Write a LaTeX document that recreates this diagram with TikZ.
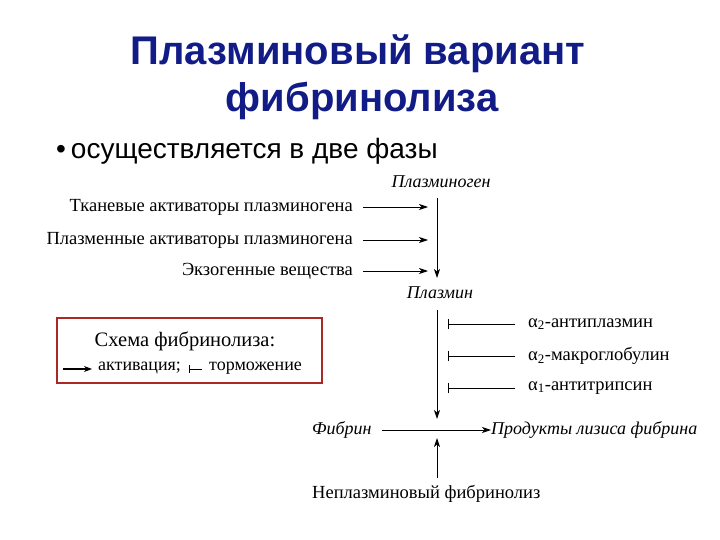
\documentclass[tikz,border=0pt]{standalone}
\usepackage{fontspec}
\setmainfont{Liberation Serif}
\newfontfamily\sansf{Liberation Sans}
\usetikzlibrary{arrows.meta}
\definecolor{titleblue}{RGB}{18,28,135}
\definecolor{boxred}{RGB}{170,40,40}
\tikzset{
  x=1pt, y=-1pt,
  lbl/.style={inner sep=0pt, font=\fontsize{18.5}{20}\selectfont},
  ilbl/.style={inner sep=0pt, font=\fontsize{18}{20}\selectfont\itshape},
  titl/.style={anchor=base, inner sep=0pt, font=\sansf\bfseries\fontsize{40}{48}\selectfont, text=titleblue},
  act/.style={line width=0.9pt, -{Stealth[length=9pt,width=6pt,inset=2.5pt]}},
  inh/.style={line width=0.9pt, {Bar[width=10pt,line width=0.9pt]}-},
}
\begin{document}
\begin{tikzpicture}
\useasboundingbox (0,0) rectangle (720,540);
% title
\node[titl] (title1) at (358,65) {Плазминовый вариант};
\node[titl] (title2) at (362,112) {фибринолиза};
\node[anchor=base west, inner sep=0pt, font=\sansf\fontsize{28}{32}\selectfont] (bul) at (56,159) {•\hspace{5pt}осуществляется в две фазы};
% top chain
\node[ilbl] (pg) at (441,182) {Плазминоген};
\node[ilbl] (pm) at (440,293) {Плазмин};
\coordinate (a1) at (437,198);
\coordinate (a2) at (437,278);
\draw[act] (a1) -- (a2);
\node[lbl, anchor=east] (t1) at (353,207) {Тканевые активаторы плазминогена};
\node[lbl, anchor=east] (t2) at (353,240) {Плазменные активаторы плазминогена};
\node[lbl, anchor=east] (t3) at (353,271) {Экзогенные вещества};
\coordinate (s1) at (363,207);
\coordinate (s2) at (363,240);
\coordinate (s3) at (363,271);
\coordinate (e1) at (428,207);
\coordinate (e2) at (428,240);
\coordinate (e3) at (428,271);
\draw[act] (s1) -- (e1);
\draw[act] (s2) -- (e2);
\draw[act] (s3) -- (e3);
% inhibitors
\node[lbl, anchor=west] (i1) at (528,324) {α\textsubscript{2}-антиплазмин};
\node[lbl, anchor=west] (i2) at (528,356) {α\textsubscript{2}-макроглобулин};
\node[lbl, anchor=west] (i3) at (528,388) {α\textsubscript{1}-антитрипсин};
\coordinate (b1) at (448,324);
\coordinate (b2) at (448,356);
\coordinate (b3) at (448,388);
\coordinate (f1) at (515,324);
\coordinate (f2) at (515,356);
\coordinate (f3) at (515,388);
\draw[inh] (b1) -- (f1);
\draw[inh] (b2) -- (f2);
\draw[inh] (b3) -- (f3);
\coordinate (c1) at (437,310);
\coordinate (c2) at (437,419);
\draw[act] (c1) -- (c2);
% fibrin row
\node[ilbl, anchor=west] (fb) at (312,430) {Фибрин};
\node[ilbl, anchor=west] (pr) at (491,430) {Продукты лизиса фибрина};
\coordinate (g1) at (382,430);
\draw[act] (g1) -- (pr.west);
\node[lbl, anchor=west] (np) at (312,494) {Неплазминовый фибринолиз};
\coordinate (d1) at (437,478);
\coordinate (d2) at (437,438);
\draw[act] (d1) -- (d2);
% legend box
\node[draw=boxred, line width=1.6pt, minimum width=265pt, minimum height=65pt, inner sep=0pt] (box) at (189.5,350.5) {};
\node[inner sep=0pt, font=\fontsize{20.5}{22}\selectfont] (lg1) at (185,341) {Схема фибринолиза:};
\node[lbl, font=\fontsize{18}{20}\selectfont, anchor=west] (lg2) at (98,368) {активация;};
\node[lbl, font=\fontsize{18}{20}\selectfont, anchor=west] (lg3) at (209,368) {торможение};
\coordinate (l1) at (63,369);
\coordinate (l2) at (92,369);
\draw[line width=1.1pt, -{Stealth[length=8pt,width=6pt,inset=2.5pt]}] (l1) -- (l2);
\coordinate (m1) at (189,369);
\coordinate (m2) at (202,369);
\draw[line width=0.8pt, {Bar[width=8pt,line width=0.8pt]}-] (m1) -- (m2);
\end{tikzpicture}
\end{document}
